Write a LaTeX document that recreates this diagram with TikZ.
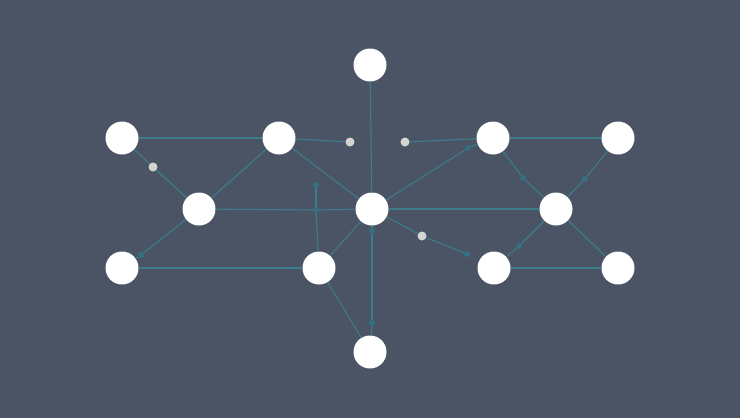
\documentclass[tikz,border=0pt]{standalone}
\definecolor{slate}{RGB}{74,84,101}
\definecolor{wire}{RGB}{62,124,140}
\definecolor{knotc}{RGB}{52,112,128}
\definecolor{pearlc}{RGB}{212,212,208}
\begin{document}
\begin{tikzpicture}[x=1pt,y=-1pt,
    vertex/.style={circle,fill=white,minimum size=33pt,inner sep=0pt},
    pearl/.style={circle,fill=pearlc,minimum size=9pt,inner sep=0pt},
    knot/.style={circle,fill=knotc,minimum size=6pt,inner sep=0pt},
    every edge/.style={draw=wire,line width=1.1pt}]
\fill[slate] (0,0) rectangle (740,418);
\node[vertex] (t)  at (370,65)  {};
\node[vertex] (l1) at (122,138) {};
\node[vertex] (l2) at (279,138) {};
\node[vertex] (l3) at (199,209) {};
\node[vertex] (l4) at (122,268) {};
\node[vertex] (l5) at (319,268) {};
\node[vertex] (c)  at (372,209) {};
\node[vertex] (b)  at (370,352) {};
\node[vertex] (r1) at (493,138) {};
\node[vertex] (r2) at (618,138) {};
\node[vertex] (r3) at (556,209) {};
\node[vertex] (r4) at (494,268) {};
\node[vertex] (r5) at (618,268) {};
\node[pearl] (g1) at (153,167) {};
\node[pearl] (g2) at (350,142) {};
\node[pearl] (g3) at (405,142) {};
\node[pearl] (g4) at (422,236) {};
\node[knot] (k1) at (316,185) {};
\node[knot] (k2) at (316,210) {};
\node[knot] (k3) at (141,255) {};
\node[knot] (k4) at (372,231) {};
\node[knot] (k5) at (372,323) {};
\node[knot] (k6) at (468,148) {};
\node[knot] (k7) at (467,254) {};
\node[knot] (k8) at (523,178) {};
\node[knot] (k9) at (585,179) {};
\node[knot] (k10) at (519,246) {};
\path
  (l1) edge (l2)
       edge (g1)
  (g1) edge (l3)
  (l2) edge (g2)
       edge (l3)
       edge (c)
  (l3) edge (k2)
       edge (k3)
  (k2) edge (c)
       edge (k1)
  (k3) edge (l4)
  (l4) edge (l5)
  (l5) edge (k2)
       edge (c)
       edge (b)
  (t)  edge (c)
  (c)  edge (k4)
  (k4) edge (k5)
  (k5) edge (b)
  (c)  edge (k6)
       edge (r3)
       edge (g4)
  (g4) edge (k7)
  (k6) edge (r1)
  (g3) edge (r1)
  (r1) edge (r2)
       edge (k8)
  (k8) edge (r3)
  (r2) edge (k9)
  (k9) edge (r3)
  (r3) edge (k10)
       edge (r5)
  (k10) edge (r4)
  (r4) edge (r5);
\end{tikzpicture}
\end{document}
